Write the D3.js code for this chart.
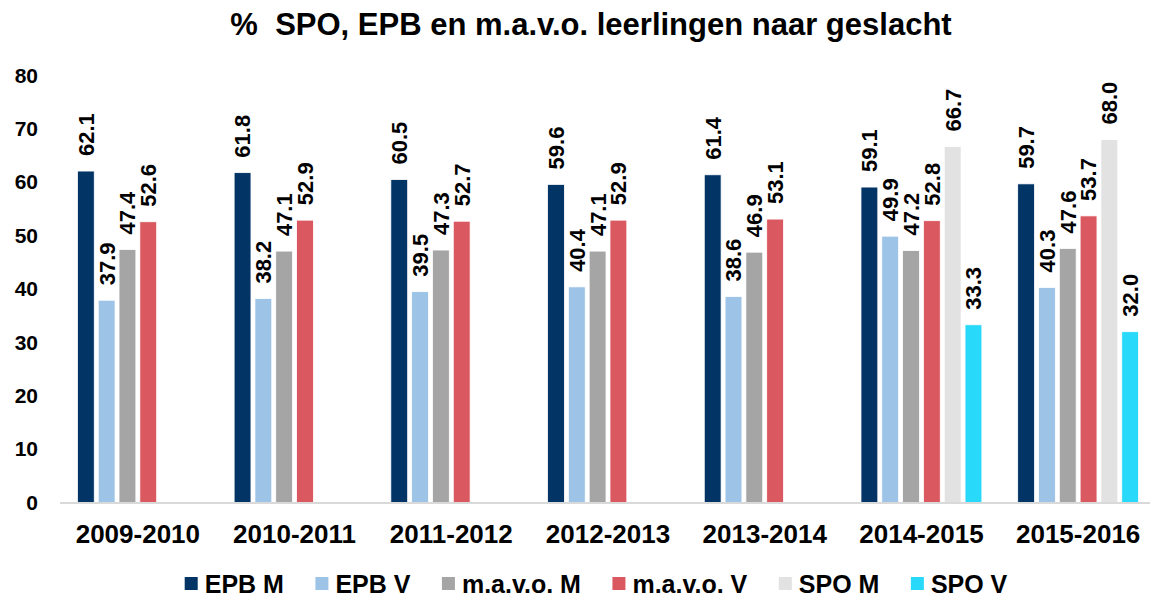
<!DOCTYPE html>
<html>
<head>
<meta charset="utf-8">
<script src="https://cdn.jsdelivr.net/npm/d3@7"></script>
<style>
  body { margin: 0; background: #fff; }
  svg text { font-family: "Liberation Sans", Arial, sans-serif; font-weight: bold; fill: #000; }
</style>
</head>
<body>
<div id="c"></div>
<script>
// data
var years = ['2009-2010', '2010-2011', '2011-2012', '2012-2013', '2013-2014', '2014-2015', '2015-2016'];
var series = ['EPB M', 'EPB V', 'm.a.v.o. M', 'm.a.v.o. V', 'SPO M', 'SPO V'];
var epb_m = [62.1, 61.8, 60.5, 59.6, 61.4, 59.1, 59.7];
var epb_v = [37.9, 38.2, 39.5, 40.4, 38.6, 49.9, 40.3];
var mavo_m = [47.4, 47.1, 47.3, 47.1, 46.9, 47.2, 47.6];
var mavo_v = [52.6, 52.9, 52.7, 52.9, 53.1, 52.8, 53.7];
var spo_m = [null, null, null, null, null, 66.7, 68.0];
var spo_v = [null, null, null, null, null, 33.3, 32.0];
var y_ticks = [0, 10, 20, 30, 40, 50, 60, 70, 80];

var colors = ['#023466', '#9dc3e6', '#a5a5a5', '#da5960', '#e2e2e2', '#29d9fa'];
var values = [epb_m, epb_v, mavo_m, mavo_v, spo_m, spo_v];

var width = 1150;
var height = 598;

var svg = d3.select('#c').append('svg')
	.attr('width', width)
	.attr('height', height);

var x0 = d3.scaleBand()
	.domain(years)
	.range([59.5, 1156.5]);

var x1 = d3.scaleBand()
	.domain(series)
	.range([0, x0.bandwidth()])
	.paddingInner(0.19)
	.paddingOuter(0.86);

var y = d3.scaleLinear()
	.domain([0, 80])
	.range([502.5, 75.5]);

var color = d3.scaleOrdinal().domain(series).range(colors);

// title
svg.append('text')
	.attr('x', 591)
	.attr('y', 35)
	.attr('text-anchor', 'middle')
	.style('font-size', '31px')
	.style('white-space', 'pre')
	.text('%  SPO, EPB en m.a.v.o. leerlingen naar geslacht');

// y axis, labels only
var y_axis = svg.append('g')
	.attr('transform', 'translate(38,0)')
	.call(d3.axisLeft(y).tickValues(y_ticks).tickSize(0).tickPadding(0));
y_axis.select('.domain').remove();
y_axis.selectAll('text')
	.style('font-size', '21px')
	.attr('font-family', null);

// bars
var rows = [];
years.forEach(function(yr, i) {
	series.forEach(function(s, j) {
		if (values[j][i] !== null) rows.push({ year: yr, key: s, value: values[j][i] });
	});
});

var bars = svg.append('g');
bars.selectAll('rect')
	.data(rows)
	.enter()
	.append('rect')
	.attr('x', function(d) { return x0(d.year) + x1(d.key); })
	.attr('y', function(d) { return y(d.value); })
	.attr('width', x1.bandwidth())
	.attr('height', function(d) { return y(0) - y(d.value); })
	.attr('fill', function(d) { return color(d.key); })
	.attr('stroke', '#fff')
	.attr('stroke-width', 0.8);

// x axis
var x_axis = svg.append('g')
	.attr('transform', 'translate(0,' + y(0) + ')')
	.call(d3.axisBottom(x0).tickSize(0).tickSizeOuter(0).tickPadding(0));
x_axis.select('.domain')
	.attr('stroke', '#d9d9d9')
	.attr('stroke-width', 2);
x_axis.selectAll('text')
	.attr('y', 40.5)
	.attr('dy', null)
	.attr('font-family', null)
	.style('font-size', '26px');

// value labels, rotated
bars.selectAll('text')
	.data(rows)
	.enter()
	.append('text')
	.attr('transform', function(d) {
		var cx = x0(d.year) + x1(d.key) + x1.bandwidth() / 2;
		return 'translate(' + cx + ',' + (y(d.value) - 15) + ') rotate(-90)';
	})
	.attr('dy', '0.36em')
	.style('font-size', '22px')
	.text(function(d) { return d.value.toFixed(1); });

// legend
var legend_y = 583.5;
var legend = svg.append('g');
var lx = 0;
var items = legend.selectAll('g')
	.data(series)
	.enter()
	.append('g');
items.append('rect')
	.attr('width', 13)
	.attr('height', 13)
	.attr('y', -6.5)
	.attr('fill', function(d) { return color(d); });
items.append('text')
	.attr('x', 20)
	.attr('dy', '0.36em')
	.style('font-size', '25px')
	.text(function(d) { return d; });
items.each(function() {
	var g = d3.select(this);
	g.attr('transform', 'translate(' + lx + ',0)');
	lx += 20 + g.select('text').node().getComputedTextLength() + 31.5;
});
var legend_w = lx - 31.5;
legend.attr('transform', 'translate(' + (596 - legend_w / 2) + ',' + legend_y + ')');
</script>
</body>
</html>
